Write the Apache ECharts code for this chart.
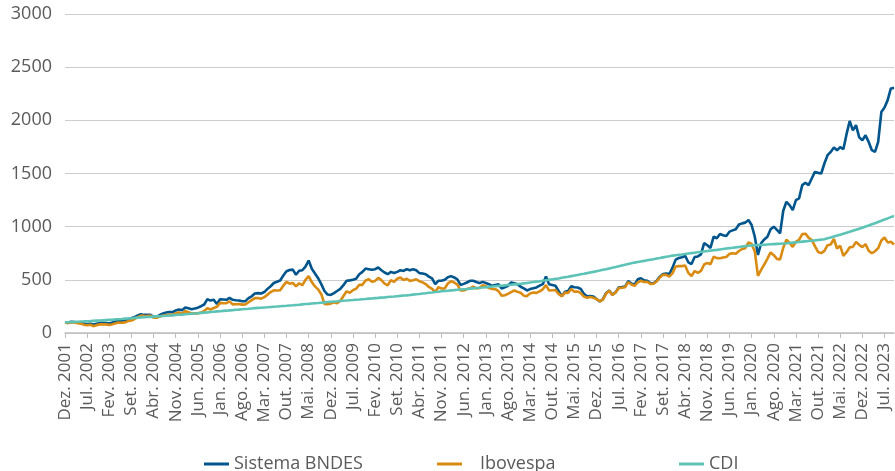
<!DOCTYPE html>
<html>
<head>
<meta charset="utf-8">
<script src="https://cdn.jsdelivr.net/npm/echarts@6/dist/echarts.min.js"></script>
<style>
html,body{margin:0;padding:0;background:#fff;}
#chart{width:895px;height:471px;}
</style>
</head>
<body>
<div id="chart"></div>
<script>
const monthNames = ['Jan.','Fev.','Mar.','Abr.','Mai.','Jun.','Jul.','Ago.','Set.','Out.','Nov.','Dez.'];
const startYear = 2001, startMonth = 11, monthCount = 263; // Dez. 2001 .. Out. 2023
const categories = [];
for (let k = 0; k < monthCount; k++) {
  const m = (startMonth + k) % 12;
  const y = startYear + Math.floor((startMonth + k) / 12);
  categories.push(monthNames[m] + ' ' + y);
}
const yTicks = [0, 500, 1000, 1500, 2000, 2500, 3000];

const sistemaBNDES = [100,
98,105,103,99,96,88,83,88,79,86,93,96,
94,90,98,108,116,114,120,132,138,150,165,176,
170,171,172,152,152,170,184,192,197,196,212,220,
215,240,232,224,230,238,252,268,318,305,312,272,
318,315,312,330,312,308,305,298,300,328,345,372,
375,372,385,415,440,470,482,494,540,580,592,596,
548,585,590,625,681,605,560,515,460,395,362,358,
375,395,415,450,492,495,500,510,553,575,606,600,
594,600,616,590,569,553,575,565,575,590,584,600,
590,600,590,563,560,553,530,513,459,491,491,500,
525,535,522,505,452,462,475,491,491,480,469,481,
470,459,444,452,459,419,430,444,475,468,459,435,
419,400,413,420,428,445,459,531,459,452,444,395,
345,388,395,440,430,428,415,368,345,348,344,320,
296,318,375,400,360,382,428,432,437,488,465,455,
505,515,495,490,470,468,490,530,555,560,555,615,
690,705,712,725,665,648,715,720,740,845,825,800,
906,891,931,920,913,953,965,975,1020,1031,1038,1063,
1016,906,734,844,880,906,975,1000,969,938,1150,1234,
1203,1156,1250,1266,1391,1413,1391,1453,1515,1506,1500,1594,
1672,1703,1744,1719,1748,1728,1870,1994,1906,1955,1840,1813,
1859,1797,1719,1703,1797,2078,2120,2190,2300,2305];

const ibovespa = [100,
93,102,98,92,88,78,72,78,64,74,81,83,
81,76,83,92,99,96,100,112,118,132,149,164,
161,160,163,144,144,156,165,168,171,170,185,193,
179,207,196,183,186,185,192,207,233,221,235,246,
283,280,280,297,269,270,273,267,268,289,309,328,
329,323,337,361,385,401,399,402,445,481,464,471,
438,468,449,500,535,479,438,410,365,274,270,277,
289,281,301,348,392,379,403,416,453,453,494,505,
482,490,518,497,464,449,497,480,511,521,499,510,
490,496,505,487,476,460,433,416,385,430,419,418,
465,487,475,455,401,400,413,420,436,420,423,449,
440,423,415,412,394,350,355,368,385,400,387,379,
351,347,371,380,377,392,411,451,399,402,403,368,
345,380,377,414,389,391,375,343,332,338,332,319,
298,315,369,397,357,380,422,426,430,478,456,444,
476,491,479,482,462,463,486,522,547,547,530,563,
625,629,629,634,565,536,583,565,584,644,659,647,
717,704,703,710,715,744,750,745,771,790,797,852,
838,767,538,593,644,700,758,732,697,692,802,877,
848,810,859,876,930,934,897,875,817,762,751,772,
826,833,884,795,820,726,760,807,810,855,829,808,
836,773,750,769,798,870,898,852,859,833];

const cdi = [100,
101,103,104,106,108,109,111,112,114,116,117,119,
121,123,125,128,130,132,135,137,139,142,144,147,
149,151,152,154,156,158,160,162,164,166,169,171,
173,176,178,181,184,186,189,192,194,197,200,203,
205,208,210,213,215,218,220,223,226,228,231,234,
236,238,240,242,245,247,249,252,254,256,259,261,
264,266,269,272,274,277,280,282,285,288,291,294,
296,298,301,303,305,308,310,313,315,318,320,323,
325,328,330,333,335,338,341,343,346,349,352,354,
357,361,364,367,371,374,378,381,385,388,392,395,
398,401,403,406,409,412,414,417,420,423,426,428,
431,434,437,440,443,445,448,451,454,457,460,463,
467,471,475,479,483,487,492,496,500,504,509,513,
519,524,529,535,540,546,552,557,563,569,575,581,
587,594,600,607,614,620,627,634,641,648,655,662,
668,673,678,684,689,694,700,705,711,717,722,728,
732,736,739,743,747,751,755,759,763,767,771,775,
779,782,786,790,794,798,801,805,809,813,817,821,
823,825,827,828,830,832,834,836,838,840,842,844,
847,850,853,856,859,862,865,868,871,875,878,881,
890,898,907,916,925,934,943,952,962,971,980,990,
1001,1011,1022,1033,1044,1055,1067,1078,1090,1101];

const seriesNames = ['Sistema BNDES', 'Ibovespa', 'CDI'];
const seriesColors = ['#00558c', '#d98b12', '#5cc3b6'];
const seriesData = [sistemaBNDES, ibovespa, cdi];

const FONT = '"Open Sans", "Noto Sans", sans-serif';
const TXT = '#5a5a5a';

const legendLefts = [199, 432, 674];
const legendPads = [0, 13, 0];

const chart = echarts.init(document.getElementById('chart'), null, {renderer: 'canvas'});
chart.setOption({
  animation: false,
  backgroundColor: '#ffffff',
  grid: {left: 65, right: 1, top: 14, bottom: 138, containLabel: false},
  legend: seriesNames.map((n, k) => ({
    data: [n],
    left: legendLefts[k],
    top: 450,
    itemWidth: 25,
    itemHeight: 3,
    icon: 'rect',
    textStyle: {fontFamily: FONT, fontSize: 18, color: TXT, padding: [0, 0, 0, legendPads[k]]}
  })),
  xAxis: {
    type: 'category',
    boundaryGap: false,
    data: categories,
    axisLine: {lineStyle: {color: '#bfbfbf', width: 1.5}},
    axisTick: {show: true, interval: 6, length: 5, lineStyle: {color: '#bfbfbf', width: 1}},
    axisLabel: {interval: 6, rotate: 90, fontFamily: FONT, fontSize: 17, color: TXT, margin: 10},
    splitLine: {show: false}
  },
  yAxis: {
    type: 'value',
    min: yTicks[0],
    max: yTicks[yTicks.length - 1],
    interval: 500,
    axisLine: {show: false},
    axisTick: {show: false},
    axisLabel: {fontFamily: FONT, fontSize: 18, color: TXT, margin: 13, formatter: v => String(v)},
    splitLine: {lineStyle: {color: '#cdcdcd', width: 1.2}}
  },
  series: seriesNames.map((n, k) => ({
    name: n,
    type: 'line',
    data: seriesData[k],
    symbol: 'none',
    smooth: false,
    lineStyle: {color: seriesColors[k], width: 2.6},
    itemStyle: {color: seriesColors[k]}
  }))
});
</script>
</body>
</html>
